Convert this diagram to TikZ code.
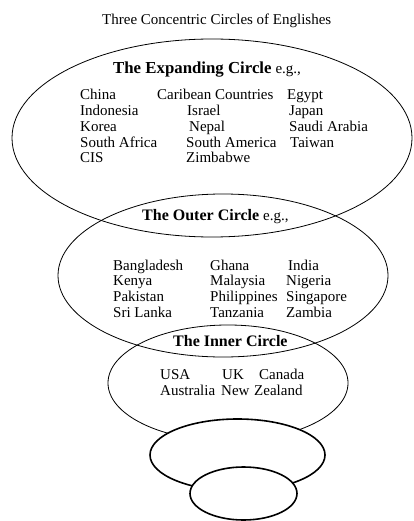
\documentclass[tikz,border=0pt]{standalone}
\usepackage{fontspec}
\setmainfont{Liberation Serif}
\begin{document}
\begin{tikzpicture}[x=1pt,y=-1pt,
  lbl/.style={anchor=base west,inner sep=0pt,font=\fontsize{15}{18}\selectfont},
  hd/.style={anchor=base west,inner sep=0pt,font=\fontsize{16}{19}\selectfont},
  thinring/.style={draw=black,line width=0.8pt},
  thickring/.style={draw=black,line width=1.6pt,fill=white}]
\useasboundingbox (0,0) rectangle (414,521);
% rings
\draw[thinring] (212,138) ellipse [x radius=200pt, y radius=99pt];
\draw[thinring] (223,275.5) ellipse [x radius=165pt, y radius=81.5pt];
\draw[thinring] (228,383) ellipse [x radius=120pt, y radius=58pt];
\draw[thickring] (237.5,455) ellipse [x radius=87.5pt, y radius=36pt];
\draw[thickring] (243.5,493.5) ellipse [x radius=53.5pt, y radius=26.5pt];
% title
\node[lbl] (title) at (102,25) {Three Concentric Circles of Englishes};
% expanding
\node[hd] (exph) at (113,74) {{\fontsize{16.8}{19}\selectfont\bfseries The Expanding Circle}\hspace{4pt}{\fontsize{15}{18}\selectfont e.g.,}};
\node[lbl] (e11) at (80,100) {China};
\node[lbl] (e12) at (157,100) {Caribean Countries};
\node[lbl] (e13) at (287,100) {Egypt};
\node[lbl] (e21) at (80,115.7) {Indonesia};
\node[lbl] (e22) at (187,115.7) {Israel};
\node[lbl] (e23) at (289,115.7) {Japan};
\node[lbl] (e31) at (80,131.5) {Korea};
\node[lbl] (e32) at (189,131.5) {Nepal};
\node[lbl] (e33) at (289,131.5) {Saudi Arabia};
\node[lbl] (e41) at (80,147.2) {South Africa};
\node[lbl] (e42) at (186,147.2) {South America};
\node[lbl] (e43) at (290,147.2) {Taiwan};
\node[lbl] (e51) at (80,162.6) {CIS};
\node[lbl] (e52) at (186,162.6) {Zimbabwe};
% outer
\node[hd] (outh) at (142,220.5) {{\bfseries The Outer Circle}\hspace{4pt}{\fontsize{15}{18}\selectfont e.g.,}};
\node[lbl] (o11) at (113,270) {Bangladesh};
\node[lbl] (o12) at (210,270) {Ghana};
\node[lbl] (o13) at (288,270) {India};
\node[lbl] (o21) at (113,285.7) {Kenya};
\node[lbl] (o22) at (210,285.7) {Malaysia};
\node[lbl] (o23) at (286,285.7) {Nigeria};
\node[lbl] (o31) at (113,301.5) {Pakistan};
\node[lbl] (o32) at (210,301.5) {Philippines};
\node[lbl] (o33) at (286,301.5) {Singapore};
\node[lbl] (o41) at (113,317.2) {Sri Lanka};
\node[lbl] (o42) at (210,317.2) {Tanzania};
\node[lbl] (o43) at (286,317.2) {Zambia};
% inner
\node[hd] (innh) at (173,346.7) {\bfseries The Inner Circle};
\node[lbl] (i11) at (160,379) {USA};
\node[lbl] (i12) at (222,379) {UK};
\node[lbl] (i13) at (259,379) {Canada};
\node[lbl] (i21) at (160,395) {Australia};
\node[lbl] (i22) at (221,395) {New};
\node[lbl] (i23) at (254,395) {Zealand};
\end{tikzpicture}
\end{document}
